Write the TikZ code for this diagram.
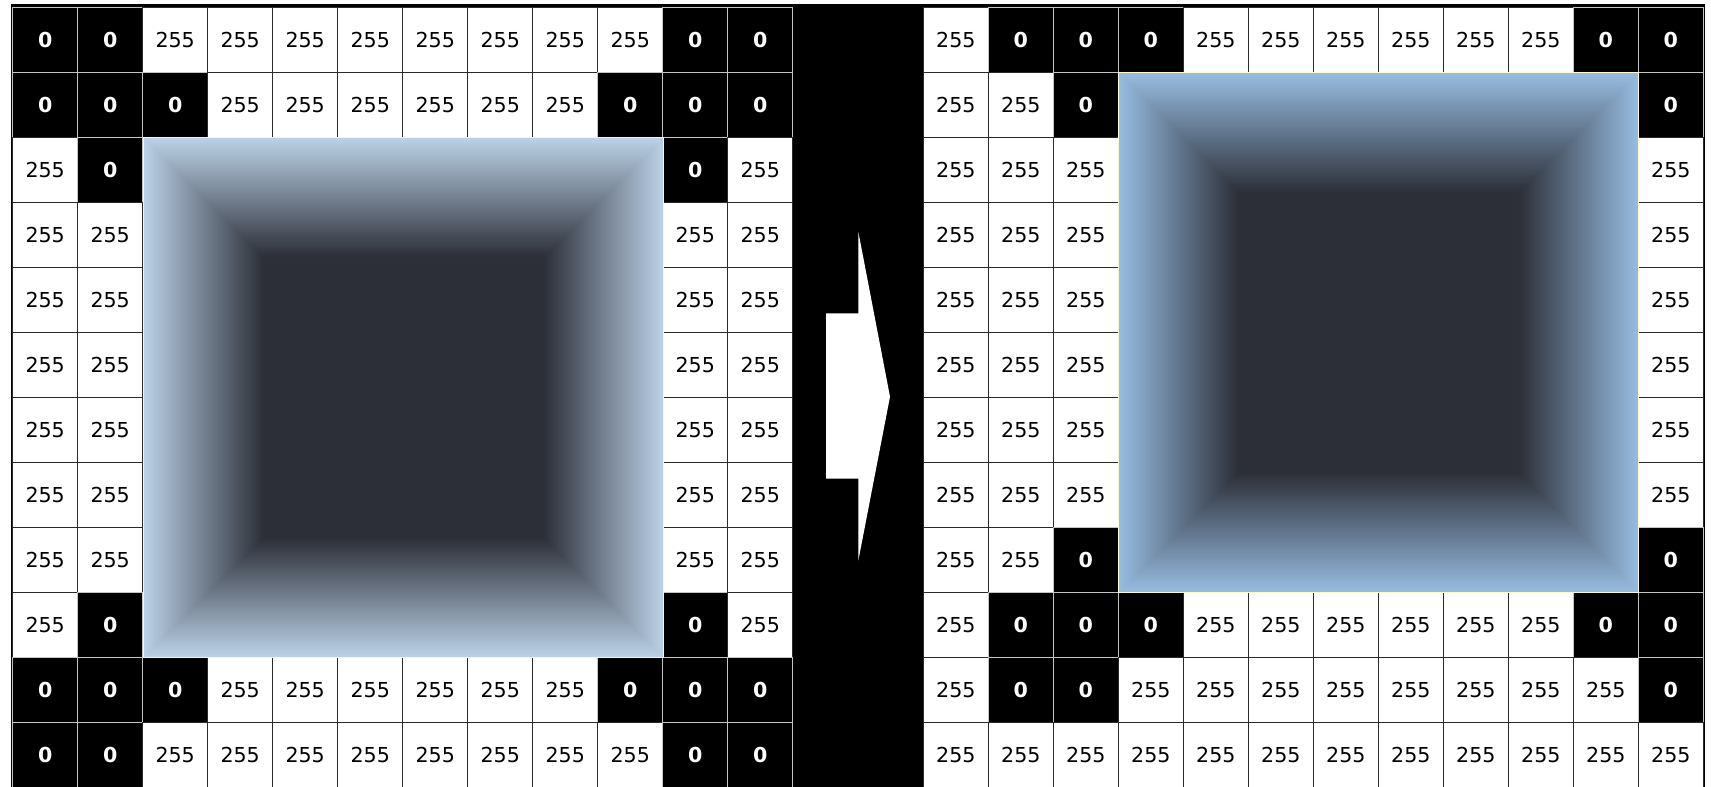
\documentclass[tikz,border=0pt]{standalone}
\usepackage{fontspec}
\newfontfamily\dvs{DejaVu Sans}
\definecolor{lgray}{HTML}{C4C4C4}
\definecolor{dgray}{HTML}{2A2A2A}
\definecolor{darkc}{HTML}{2C2F38}
\definecolor{edgeL}{HTML}{BCD2E8}
\definecolor{edgeR}{HTML}{98BDE2}
\definecolor{paley}{HTML}{FFF8C8}
\tikzset{
  cellbase/.style={minimum width=32.5pt, minimum height=32.5pt, inner sep=0pt, line width=0.7pt},
  blackcell/.style={cellbase, draw=lgray, fill=black, text=white, font=\dvs\bfseries\fontsize{10.3}{12}\selectfont},
  whitecell/.style={cellbase, draw=dgray, fill=white, text=black, font=\dvs\fontsize{10.3}{12}\selectfont},
  boxborder/.style={draw=paley, line width=0.7pt},
}
\newcommand\bevelbox[5]{%
  \fill[darkc] (#1,#2) rectangle (#3,#4);
  \shade[left color=#5, right color=darkc] (#1,#2) rectangle ({#1+120},#4);
  \shade[left color=darkc, right color=#5] ({#3-120},#2) rectangle (#3,#4);
  \shade[top color=#5, bottom color=darkc] (#1,#2) -- (#3,#2) -- ({#3-120},{#2+120}) -- ({#1+120},{#2+120}) -- cycle;
  \shade[top color=darkc, bottom color=#5] (#1,#4) -- (#3,#4) -- ({#3-120},{#4-120}) -- ({#1+120},{#4-120}) -- cycle;
  \path[boxborder] (#1,#2) rectangle (#3,#4);
}
\begin{document}
\begin{tikzpicture}[x=0.5pt,y=-0.5pt]
\useasboundingbox (0,0) rectangle (1711,786);
\clip (0,0) rectangle (1711,786);
\fill[white] (0,0) rectangle (1711,786);
\fill[black] (11,4) rectangle (1705,800);
% left grid
\foreach \row [count=\r from 0] in {
{0,0,1,1,1,1,1,1,1,1,0,0},
{0,0,0,1,1,1,1,1,1,0,0,0},
{1,0,2,2,2,2,2,2,2,2,0,1},
{1,1,2,2,2,2,2,2,2,2,1,1},
{1,1,2,2,2,2,2,2,2,2,1,1},
{1,1,2,2,2,2,2,2,2,2,1,1},
{1,1,2,2,2,2,2,2,2,2,1,1},
{1,1,2,2,2,2,2,2,2,2,1,1},
{1,1,2,2,2,2,2,2,2,2,1,1},
{1,0,2,2,2,2,2,2,2,2,0,1},
{0,0,0,1,1,1,1,1,1,0,0,0},
{0,0,1,1,1,1,1,1,1,1,0,0}}{
  \foreach \v [count=\c from 0] in \row {
    \ifnum\v=0 \node[blackcell] (L\r-\c) at ({45.2+65*\c},{39.8+65*\r}) {0};\fi
    \ifnum\v=1 \node[whitecell] (L\r-\c) at ({45.2+65*\c},{39.8+65*\r}) {255};\fi
  }
}
% right grid
\foreach \row [count=\r from 0] in {
{1,0,0,0,1,1,1,1,1,1,0,0},
{1,1,0,2,2,2,2,2,2,2,2,0},
{1,1,1,2,2,2,2,2,2,2,2,1},
{1,1,1,2,2,2,2,2,2,2,2,1},
{1,1,1,2,2,2,2,2,2,2,2,1},
{1,1,1,2,2,2,2,2,2,2,2,1},
{1,1,1,2,2,2,2,2,2,2,2,1},
{1,1,1,2,2,2,2,2,2,2,2,1},
{1,1,0,2,2,2,2,2,2,2,2,0},
{1,0,0,0,1,1,1,1,1,1,0,0},
{1,0,0,1,1,1,1,1,1,1,1,0},
{1,1,1,1,1,1,1,1,1,1,1,1}}{
  \foreach \v [count=\c from 0] in \row {
    \ifnum\v=0 \node[blackcell] (R\r-\c) at ({955.8+65*\c},{39.8+65*\r}) {0};\fi
    \ifnum\v=1 \node[whitecell] (R\r-\c) at ({955.8+65*\c},{39.8+65*\r}) {255};\fi
  }
}
% gradient boxes
\bevelbox{143.3}{137.3}{663.3}{657.3}{edgeL}
\bevelbox{1118.3}{72.3}{1638.3}{592.3}{edgeR}
% arrow
\fill[white] (826,313.3) -- (858.3,313.3) -- (858.3,231.7) -- (890,396.7) -- (858.3,560.7) -- (858.3,478.7) -- (826,478.7) -- cycle;
\end{tikzpicture}
\end{document}
